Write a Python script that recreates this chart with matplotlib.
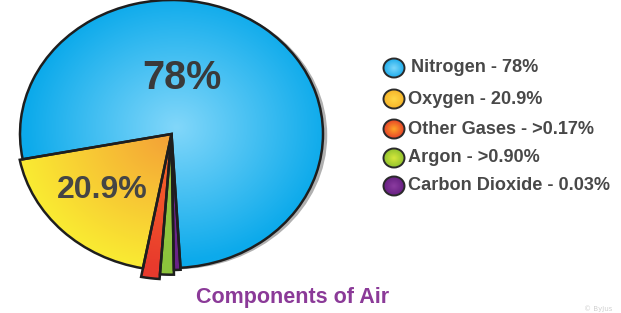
import matplotlib.pyplot as plt
import numpy as np
from matplotlib.patches import Ellipse

# данные
gases = ['Nitrogen', 'Oxygen', 'Other Gases', 'Argon', 'Carbon Dioxide']
legend_values = ['78%', '20.9%', '>0.17%', '>0.90%', '0.03%']
# доли секторов, как они нарисованы на картинке
wedge_share = [77.0, 19.0, 1.8, 1.4, 0.7]
wedge_radius = [1.0, 1.02, 1.085, 1.05, 1.015]

# цвета: центр градиента / край
inner_colors = [(130, 215, 250), (244, 160, 55), (250, 110, 40), (150, 200, 70), (120, 45, 150)]
outer_colors = [(12, 170, 235), (250, 234, 50), (232, 58, 45), (140, 195, 60), (105, 35, 135)]
legend_inner = [(125, 215, 250), (255, 215, 70), (255, 165, 40), (215, 232, 60), (140, 60, 160)]
legend_outer = [(25, 170, 235), (245, 178, 40), (228, 60, 40), (140, 192, 45), (100, 30, 128)]

W, H = 621, 313
cx, cy, rx, ry = 171.5, 134, 151.5, 134


def rgb(c):
    return np.array(c) / 255.0


def radial_fill(ax, patch, x0, y0, sx, sy, c_in, c_out, extent, zorder):
    xs = np.linspace(extent[0], extent[1], 300)
    ys = np.linspace(extent[2], extent[3], 300)
    X, Y = np.meshgrid(xs, ys)
    r = np.clip(np.sqrt(((X - x0) / sx) ** 2 + ((Y - y0) / sy) ** 2), 0, 1)[..., None]
    img = rgb(c_in) * (1 - r) + rgb(c_out) * r
    im = ax.imshow(img, extent=extent, origin='lower', aspect='auto',
                   interpolation='bilinear', zorder=zorder)
    im.set_clip_path(patch)


fig = plt.figure(figsize=(W / 100, H / 100), dpi=100)

# оси для круговой диаграммы (эллипс)
lim = 1.25
ax = fig.add_axes([(cx - rx * lim) / W, (H - cy - ry * lim) / H,
                   2 * rx * lim / W, 2 * ry * lim / H])
wedges, _ = ax.pie(wedge_share, startangle=-86.6, counterclock=True,
                   wedgeprops=dict(edgecolor='#1e1e1e', linewidth=1.8))
ax.set_aspect('auto')

# тень справа
ax.add_patch(Ellipse((0.028, -0.01), 2.0, 2.0, facecolor='#b0b0b0',
                     edgecolor='none', zorder=0))

for i, w in enumerate(wedges):
    w.set_radius(wedge_radius[i])
    w.set_zorder(3)
    radial_fill(ax, w, 0.03 if i == 0 else 0, 0.05 if i == 0 else 0, 1.0, 1.0,
                inner_colors[i], outer_colors[i], (-1.2, 1.2, -1.2, 1.2), 2)
    w.set_facecolor('none')

ax.set_xlim(-lim, lim)
ax.set_ylim(-lim, lim)
ax.axis('off')

ax.text((182 - cx) / rx, (cy - 78) / ry, '78%', fontsize=28.5, fontweight='bold',
        color='#3a3a3a', ha='center', va='center', family='Liberation Sans', zorder=5)
ax.text((102 - cx) / rx, (cy - 190) / ry, '20.9%', fontsize=23, fontweight='bold',
        color='#454545', ha='center', va='center', family='Liberation Sans', zorder=5)

# легенда и подпись в пиксельных координатах
ov = fig.add_axes([0, 0, 1, 1])
ov.set_xlim(0, W)
ov.set_ylim(H, 0)
ov.axis('off')

leg_y = [68, 99, 129, 158, 186]
for i, name in enumerate(gases):
    e = Ellipse((394, leg_y[i]), 21, 19, facecolor='none', edgecolor='#2a2a2a',
                linewidth=1.4, zorder=4)
    ov.add_patch(e)
    radial_fill(ov, e, 394, leg_y[i], 11, 10, legend_inner[i], legend_outer[i],
                (382, 406, leg_y[i] - 12, leg_y[i] + 12), 3)
    ov.text(408 if i else 411, leg_y[i], f'{name} - {legend_values[i]}',
            fontsize=13.1, fontweight='bold', color='#484848', ha='left',
            va='center', family='Liberation Sans')

ov.set_xlim(0, W)
ov.set_ylim(H, 0)

ov.text(293, 297, 'Components of Air', fontsize=15.5, fontweight='bold',
        color='#8b3a98', ha='center', va='center', family='Liberation Sans')
ov.text(598, 309, '© Byjus', fontsize=5, color='#d0d0d0', ha='center',
        va='center')

fig.savefig('out.png', dpi=100)
